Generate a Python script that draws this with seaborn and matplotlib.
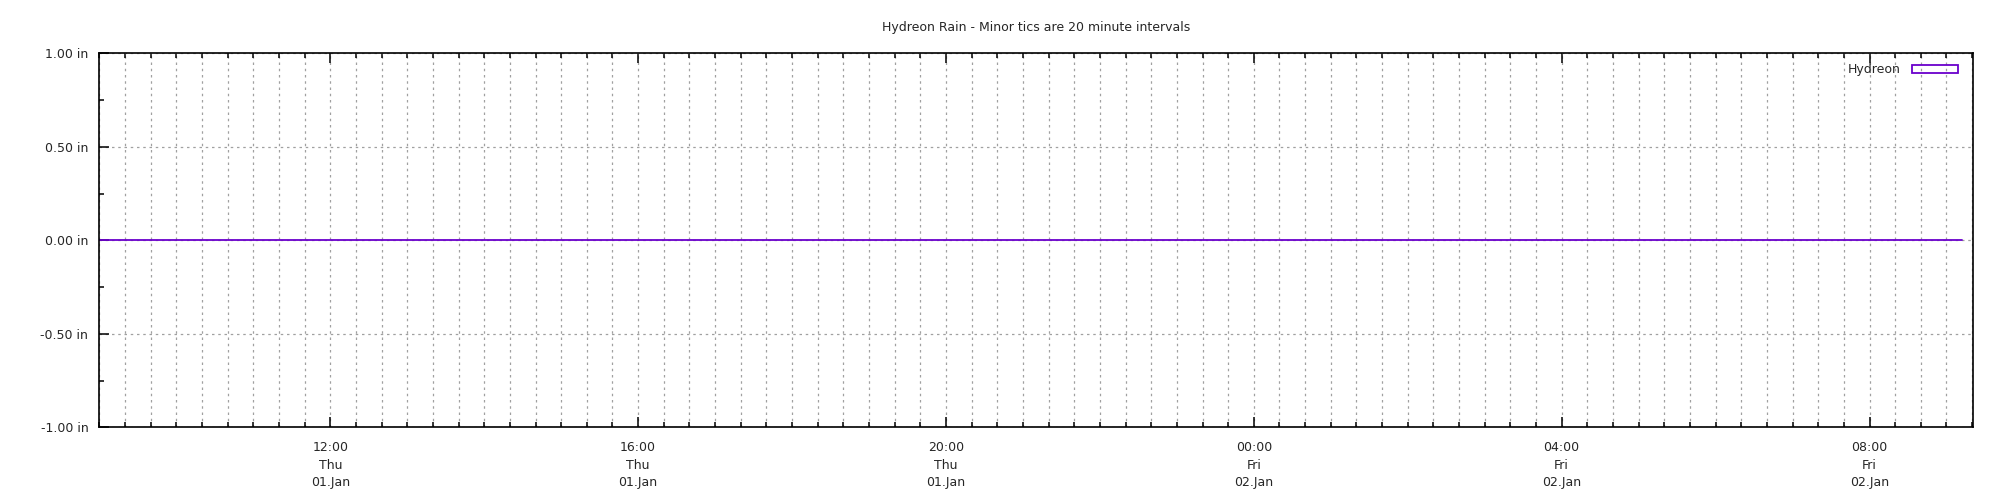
import matplotlib
matplotlib.use("Agg")
import matplotlib.pyplot as plt
import matplotlib.dates as mdates
from matplotlib.patches import Patch
import seaborn as sns
import pandas as pd

# ---- data ----
times = [
    "1970-01-01 09:00", "1970-01-01 10:00", "1970-01-01 11:00", "1970-01-01 12:00",
    "1970-01-01 13:00", "1970-01-01 14:00", "1970-01-01 15:00", "1970-01-01 16:00",
    "1970-01-01 17:00", "1970-01-01 18:00", "1970-01-01 19:00", "1970-01-01 20:00",
    "1970-01-01 21:00", "1970-01-01 22:00", "1970-01-01 23:00", "1970-01-02 00:00",
    "1970-01-02 01:00", "1970-01-02 02:00", "1970-01-02 03:00", "1970-01-02 04:00",
    "1970-01-02 05:00", "1970-01-02 06:00", "1970-01-02 07:00", "1970-01-02 08:00",
    "1970-01-02 09:00", "1970-01-02 09:12",
]
rain_in = [
    0.0, 0.0, 0.0, 0.0, 0.0, 0.0, 0.0, 0.0, 0.0, 0.0, 0.0, 0.0, 0.0,
    0.0, 0.0, 0.0, 0.0, 0.0, 0.0, 0.0, 0.0, 0.0, 0.0, 0.0, 0.0, 0.0,
]
series_name = "Hydreon"
title = "Hydreon Rain - Minor tics are 20 minute intervals"
x_start = "1970-01-01 09:00"
x_end = "1970-01-02 09:21"
y_ticks = [-1.0, -0.5, 0.0, 0.5, 1.0]

df = pd.DataFrame({"time": pd.to_datetime(times), "rain": rain_in})

sns.set_theme(style="white")
plt.rcParams["font.family"] = ["DejaVu Sans"]

color = "#6a00cc"

fig, ax = plt.subplots(figsize=(20, 5), dpi=100)
fig.subplots_adjust(left=0.0497, right=0.9867, top=0.8933, bottom=0.1453)

sns.lineplot(data=df, x="time", y="rain", ax=ax, color=color, linewidth=1.3, legend=False)

ax.set_xlim(pd.Timestamp(x_start), pd.Timestamp(x_end))
ax.set_ylim(-1, 1)

ax.xaxis.set_major_locator(mdates.HourLocator(byhour=range(0, 24, 4)))
ax.xaxis.set_minor_locator(mdates.MinuteLocator(byminute=[0, 20, 40]))
ax.xaxis.set_major_formatter(mdates.DateFormatter("%H:%M\n%a\n%d.%b"))

ax.set_yticks(y_ticks)
ax.set_yticklabels([f"{v:.2f} in" for v in y_ticks])
ax.set_yticks([-0.75, -0.25, 0.25, 0.75], minor=True)

ax.set_xlabel("")
ax.set_ylabel("")

for s in ax.spines.values():
    s.set_visible(True)
    s.set_color("black")
    s.set_linewidth(1.2)

ax.tick_params(axis="x", which="both", direction="in", top=True, bottom=True,
               color="black", width=1.1)
ax.tick_params(axis="x", which="major", length=7.5, pad=10, labelsize=9)
ax.tick_params(axis="x", which="minor", length=3.8)
ax.tick_params(axis="y", which="both", direction="in", left=True, right=False,
               color="black", width=1.1)
ax.tick_params(axis="y", which="major", length=7.5, pad=8, labelsize=9)
ax.tick_params(axis="y", which="minor", length=3.8)
for lab in ax.get_xticklabels():
    lab.set_linespacing(1.45)

grid_kw = dict(color="#a0a0a0", linestyle=(0, (2, 3)), linewidth=0.9)
ax.grid(False)
ax.xaxis.grid(True, which="both", **grid_kw)
ax.yaxis.grid(True, which="major", **grid_kw)
ax.set_axisbelow(True)

ax.set_title(title, fontsize=9, pad=16)

handle = Patch(facecolor="none", edgecolor=color, linewidth=1.3, label=series_name)
ax.legend(handles=[handle], loc="upper right", frameon=False, markerfirst=False,
          fontsize=9, handlelength=3.7, handleheight=0.6, borderaxespad=0.4,
          handletextpad=0.9, bbox_to_anchor=(0.997, 1.0))

fig.savefig("out.png", dpi=100)
